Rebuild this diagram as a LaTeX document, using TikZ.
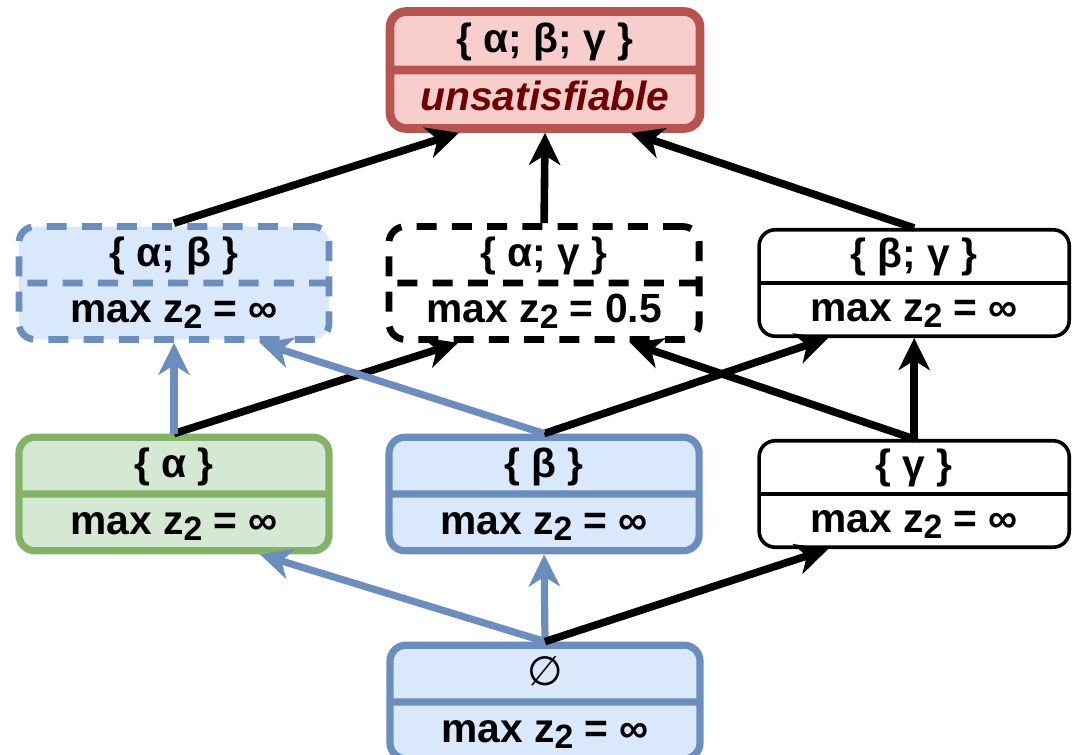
\documentclass[tikz,border=0pt]{standalone}
\usepackage{fontspec}
\setmainfont{Liberation Sans}
\newfontfamily\symfont{DejaVu Sans}
\usetikzlibrary{shapes.multipart,arrows.meta,calc}

\definecolor{bluefill}{HTML}{DAE8FC}
\definecolor{bluedraw}{HTML}{6C8EBF}
\definecolor{greenfill}{HTML}{D5E8D4}
\definecolor{greendraw}{HTML}{82B366}
\definecolor{redfill}{HTML}{F8CECC}
\definecolor{reddraw}{HTML}{B85450}
\definecolor{unsatred}{HTML}{6E0000}

\newcommand{\cellstrut}{\rule[-0.33cm]{0pt}{1.24cm}}
\newcommand{\setlbl}[1]{\cellstrut #1}
\newcommand{\maxz}[1]{\cellstrut max z\raisebox{-0.15em}{\fontsize{24}{24}\selectfont 2} = #1}

\tikzset{
setbox/.style = {draw, rectangle split, rectangle split parts=2, rounded corners=0.4cm,
  minimum width=7.75cm, inner xsep=0pt, inner ysep=0pt, line width=0.18cm,
  font=\fontsize{29}{33}\selectfont\bfseries, align=center},
bluebox/.style  = {fill=bluefill, draw=bluedraw},
greenbox/.style = {fill=greenfill, draw=greendraw},
redbox/.style   = {fill=redfill, draw=reddraw, line width=0.22cm},
plainbox/.style = {fill=white, draw=black, line width=0.09cm},
dashbox/.style  = {dashed, dash pattern=on 0.5cm off 0.38cm, line width=0.17cm},
edge/.style     = {->, line width=0.19cm, black},
blueedge/.style = {->, line width=0.18cm, bluedraw}
}

\begin{document}
\begin{tikzpicture}[x=0.025cm, y=0.025cm, node distance=9.25cm,
    >={Stealth[length=0.8cm, width=0.78cm, inset=0.24cm]}]
    \clip (0,0) rectangle (1080,-755);
    % the whole set on top
    \node [setbox, redbox] (abg) at (545,-70)
        {\setlbl{\{ α; β; γ \}}\nodepart{two}\cellstrut\textcolor{unsatred}{\itshape unsatisfiable}};

    % pairs
    \node [setbox, bluebox, dashbox] (ab) at (174,-283) {\setlbl{\{ α; β \}}\nodepart{two}\maxz{∞}};
    \node [setbox, plainbox, dashbox, right of=ab] (ag) {\setlbl{\{ α; γ \}}\nodepart{two}\maxz{0.5}};
    \node [setbox, plainbox, right of=ag] (bg) {\setlbl{\{ β; γ \}}\nodepart{two}\maxz{∞}};

    % singletons
    \node [setbox, greenbox] (a) at (174,-494) {\setlbl{\{ α \}}\nodepart{two}\maxz{∞}};
    \node [setbox, bluebox, right of=a] (b) {\setlbl{\{ β \}}\nodepart{two}\maxz{∞}};
    \node [setbox, plainbox, right of=b] (g) {\setlbl{\{ γ \}}\nodepart{two}\maxz{∞}};

    % empty set
    \node [setbox, bluebox] (e) at (545,-702) {\setlbl{{\symfont\mdseries ∅}}\nodepart{two}\maxz{∞}};

    % edges into the top
    \draw [edge] (ab.north) -- ($(abg.south)+(-86,0)$);
    \draw [edge] (ag.north) -- (abg.south);
    \draw [edge] (bg.north) -- ($(abg.south)+(86,0)$);

    % edges into the pairs
    \draw [edge] (a.north) -- ($(ag.south)+(-86,0)$);
    \draw [edge] (b.north) -- ($(bg.south)+(-86,0)$);
    \draw [edge] (g.north) -- ($(ag.south)+(86,0)$);
    \draw [edge] (g.north) -- (bg.south);
    \draw [blueedge] (a.north) -- (ab.south);
    \draw [blueedge] (b.north) -- ($(ab.south)+(86,0)$);

    % edges out of the empty set
    \draw [blueedge] (e.north) -- ($(a.south)+(86,0)$);
    \draw [blueedge] (e.north) -- (b.south);
    \draw [edge] (e.north) -- ($(g.south)+(-86,0)$);
\end{tikzpicture}
\end{document}
